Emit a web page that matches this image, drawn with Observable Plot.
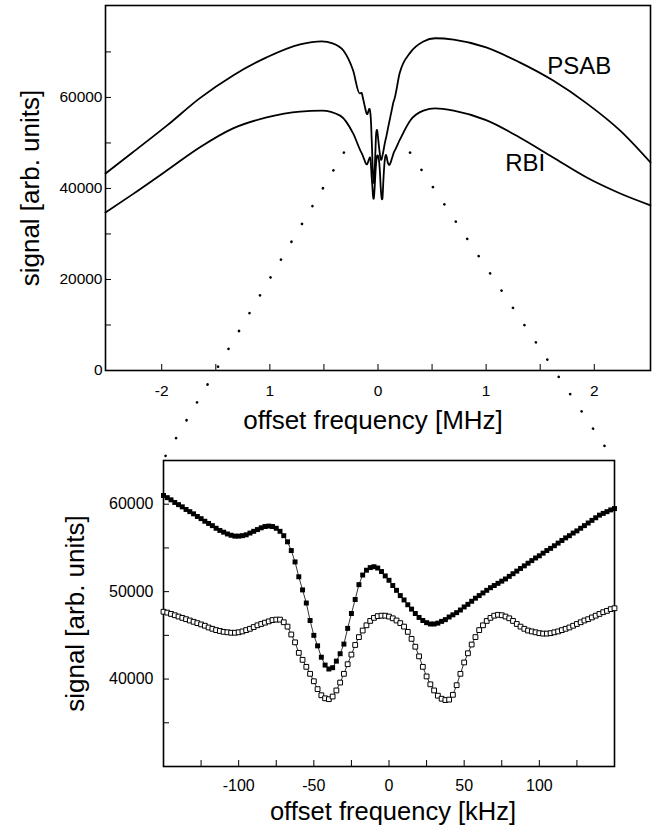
<!DOCTYPE html>
<html><head><meta charset="utf-8">
<script src="https://cdn.jsdelivr.net/npm/d3@7"></script>
<script src="https://cdn.jsdelivr.net/npm/@observablehq/plot@0.6"></script>
<style>
body{margin:0;background:#fff;}
#wrap{position:relative;width:657px;height:829px;}
#wrap svg{position:absolute;left:0;overflow:visible;}
g[aria-label="title"] text{letter-spacing:1px;}
</style></head><body><div id="wrap"></div>
<script>
const FONT = '"Liberation Sans", Arial, Helvetica, sans-serif';

// ---- bottom panel (kHz) ----
const kHz = [-150,-147.5,-145,-142.5,-140,-137.5,-135,-132.5,-130,-127.5,
  -125,-122.5,-120,-117.5,-115,-112.5,-110,-107.5,-105,-102.5,
  -100,-97.5,-95,-92.5,-90,-87.5,-85,-82.5,-80,-77.5,
  -75,-72.5,-70,-67.5,-65,-62.5,-60,-57.5,-55,-52.5,
  -50,-47.5,-45,-42.5,-40,-37.5,-35,-32.5,-30,-27.5,
  -25,-22.5,-20,-17.5,-15,-12.5,-10,-7.5,-5,-2.5,
  0,2.5,5,7.5,10,12.5,15,17.5,20,22.5,
  25,27.5,30,32.5,35,37.5,40,42.5,45,47.5,
  50,52.5,55,57.5,60,62.5,65,67.5,70,72.5,
  75,77.5,80,82.5,85,87.5,90,92.5,95,97.5,
  100,102.5,105,107.5,110,112.5,115,117.5,120,122.5,
  125,127.5,130,132.5,135,137.5,140,142.5,145,147.5,
  150];
const psabKHz = [61000,60750,60500,60200,59950,59700,59400,59150,58900,58600,
  58350,58050,57800,57550,57250,57000,56800,56600,56450,56350,
  56350,56400,56500,56700,56900,57100,57300,57450,57500,57450,
  57250,56900,56400,55700,54700,53400,51700,50200,48700,46700,
  45000,43800,42500,41600,41150,41300,42050,42900,44000,45800,
  47500,49100,50800,51900,52450,52750,52850,52700,52300,51800,
  51300,50700,50150,49550,49050,48500,48000,47500,47050,46700,
  46450,46300,46300,46400,46600,46800,47100,47350,47600,47900,
  48250,48550,48900,49250,49550,49850,50150,50450,50700,50950,
  51200,51450,51750,52050,52350,52650,52950,53250,53550,53850,
  54100,54400,54700,54950,55250,55550,55850,56150,56400,56700,
  56950,57250,57550,57850,58150,58450,58750,58950,59150,59350,
  59500];
const rbiKHz = [47700,47600,47450,47300,47150,47000,46850,46700,46550,46400,
  46250,46100,45900,45750,45600,45500,45400,45350,45300,45300,
  45350,45450,45600,45750,45950,46150,46300,46450,46600,46750,
  46800,46800,46500,46000,45100,44200,43000,42200,41400,40600,
  39750,38850,38150,37800,37700,38000,38700,39600,40600,41700,
  42800,43900,44800,45550,46150,46650,47000,47200,47250,47250,
  47150,46950,46700,46400,46000,45400,44600,43700,42600,41400,
  40300,39400,38700,38100,37750,37600,37650,38200,39300,40600,
  41900,42950,43950,44800,45600,46150,46650,47000,47250,47350,
  47300,47150,46950,46650,46300,46000,45750,45550,45450,45350,
  45250,45200,45200,45250,45350,45450,45600,45750,45900,46100,
  46300,46500,46700,46850,47050,47250,47450,47650,47800,48000,
  48100];

// ---- top panel (MHz), wings outside the zoomed region ----
const psabLeftMHz  = [-2.52,-2.27,-1.95,-1.65,-1.34,-1.03,-0.72,-0.52,-0.42,-0.32,-0.23,-0.17];
const psabLeftVal  = [43300,47900,53850,59800,64840,68800,71650,72300,71900,70300,65900,60900];
const psabRightMHz = [0.20,0.30,0.42,0.53,0.70,1.00,1.31,1.62,1.93,2.24,2.52];
const psabRightVal = [65300,69900,72300,73000,72700,71000,67700,63700,58700,52700,45700];
const rbiLeftMHz   = [-2.52,-2.27,-1.95,-1.65,-1.34,-1.03,-0.72,-0.52,-0.35,-0.23];
const rbiLeftVal   = [34700,38700,44000,49000,53200,55600,56900,57100,56000,52100];
const rbiRightMHz  = [0.20,0.30,0.42,0.53,0.70,1.00,1.31,1.62,1.93,2.24,2.52];
const rbiRightVal  = [50600,55000,57100,57600,57100,55000,51200,46800,42400,38900,36300];

const topXTicks = [-2,-1,0,1,2];
const topXTickLabels = ["-2","1","0","1","2"];
const topXMinor = [-1.5,-0.5,0.5,1.5];
const topYTicks = [0,20000,40000,60000];
const topYMinor = [10000,30000,50000,70000];
const botXTicks = [-100,-50,0,50,100];
const botXMinor = [-125,-75,-25,25,75,125];
const botYTicks = [40000,50000,60000];
const botYMinor = [35000,45000,55000];

const seriesLabels = [{name:"PSAB", f:1.565, v:65250},{name:"RBI", f:1.176, v:43940}];
const zoomLinks = [{x1:-0.315,y1:47900,x2:-1.99,y2:-19800},{x1:0.296,y1:47900,x2:2.185,y2:-19800}];

const rows = (fs, vs) => fs.map((f,i)=>({f, v: vs[i]}));
const botPSAB = rows(kHz, psabKHz);
const botRBI = rows(kHz, rbiKHz);
const inner = (vs) => kHz.map((k,i)=>({f:k/1000, v:vs[i]}));
const topPSAB = [...rows(psabLeftMHz, psabLeftVal), ...inner(psabKHz), ...rows(psabRightMHz, psabRightVal)];
const topRBI  = [...rows(rbiLeftMHz, rbiLeftVal), ...inner(rbiKHz), ...rows(rbiRightMHz, rbiRightVal)];

function flipTicks(svg){
  d3.select(svg).selectAll('g[aria-label="x-axis tick"] path').attr("d","M0,0L0,-6");
  d3.select(svg).selectAll('g[aria-label="y-axis tick"] path').attr("d","M0,0L6,0");
}

const topPlot = Plot.plot({
  width: 657, height: 460,
  marginLeft: 105, marginRight: 7, marginTop: 5, marginBottom: 90,
  style: {fontFamily: FONT, fontSize: "15.5px", background: "transparent", overflow: "visible", color: "black"},
  x: {domain: [-2.52, 2.52]},
  y: {domain: [0, 80200]},
  marks: [
    Plot.axisX(topXTicks, {tickSize: 6, tickPadding: 8.5, label: null, fontSize: 15.5,
      tickFormat: d => topXTickLabels[topXTicks.indexOf(d)]}),
    Plot.axisX(topXMinor, {tickSize: 6, label: null, tickFormat: () => ""}),
    Plot.axisY(topYTicks, {tickSize: 6, tickPadding: -3, label: null, fontSize: 15.5, tickFormat: d => String(d)}),
    Plot.axisY(topYMinor, {tickSize: 6, label: null, tickFormat: () => ""}),
    Plot.frame({strokeWidth: 1.6}),
    Plot.line(topPSAB, {x: "f", y: "v", strokeWidth: 1.8, curve: "monotone-x"}),
    Plot.line(topRBI, {x: "f", y: "v", strokeWidth: 1.8, curve: "monotone-x"}),
    Plot.text(seriesLabels, {x: "f", y: "v", text: "name", textAnchor: "start", lineAnchor: "bottom", fontSize: 24}),
    Plot.link(zoomLinks, {x1: "x1", y1: "y1", x2: "x2", y2: "y2", strokeWidth: 2.6, strokeDasharray: "0.1,20.6", strokeLinecap: "round"}),
    Plot.text(["offset frequency [MHz]"], {text: d => d, frameAnchor: "bottom", dy: 50, dx: -5, fontSize: 26, textAnchor: "middle", lineAnchor: "middle", ariaLabel: "title"}),
    Plot.text(["signal [arb. units]"], {text: d => d, frameAnchor: "left", dx: -75, rotate: -90, fontSize: 26, textAnchor: "middle", lineAnchor: "middle", ariaLabel: "title"})
  ]
});
flipTicks(topPlot);
topPlot.style.top = "0px";

const botPlot = Plot.plot({
  width: 657, height: 389,
  marginLeft: 163, marginRight: 43, marginTop: 20, marginBottom: 63,
  style: {fontFamily: FONT, fontSize: "16px", background: "transparent", overflow: "visible", color: "black"},
  x: {domain: [-150, 150]},
  y: {domain: [30000, 65000]},
  marks: [
    Plot.axisX(botXTicks, {tickSize: 6, tickPadding: 7.5, label: null, fontSize: 16, tickFormat: d => String(d)}),
    Plot.axisX(botXMinor, {tickSize: 6, label: null, tickFormat: () => ""}),
    Plot.axisY(botYTicks, {tickSize: 6, tickPadding: 4, label: null, fontSize: 16, tickFormat: d => String(d)}),
    Plot.axisY(botYMinor, {tickSize: 6, label: null, tickFormat: () => ""}),
    Plot.frame({strokeWidth: 1.6}),
    Plot.line(botRBI, {x: "f", y: "v", strokeWidth: 0.8}),
    Plot.dot(botRBI, {x: "f", y: "v", symbol: "square", r: 2.7, fill: "white", stroke: "black", strokeWidth: 1}),
    Plot.line(botPSAB, {x: "f", y: "v", strokeWidth: 0.8}),
    Plot.dot(botPSAB, {x: "f", y: "v", symbol: "square", r: 2.8, fill: "black", stroke: "none"}),
    Plot.text(["offset frequency [kHz]"], {text: d => d, frameAnchor: "bottom", dy: 45, dx: 4, fontSize: 25.5, textAnchor: "middle", lineAnchor: "middle", ariaLabel: "title"}),
    Plot.text(["signal [arb. units]"], {text: d => d, frameAnchor: "left", dx: -88, rotate: -90, fontSize: 26, textAnchor: "middle", lineAnchor: "middle", ariaLabel: "title"})
  ]
});
flipTicks(botPlot);
botPlot.style.top = "440px";

const wrap = document.getElementById("wrap");
wrap.appendChild(topPlot);
wrap.appendChild(botPlot);
</script></body></html>
